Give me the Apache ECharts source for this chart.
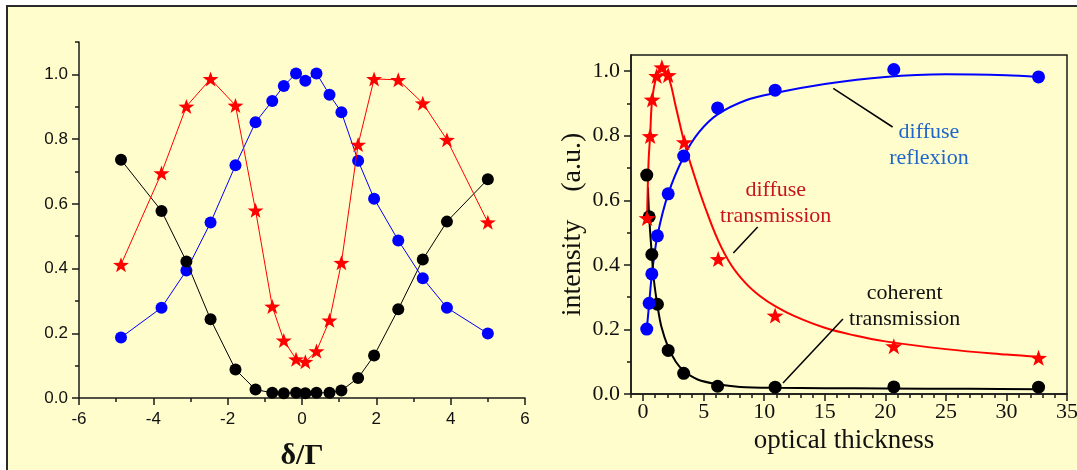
<!DOCTYPE html>
<html>
<head>
<meta charset="utf-8">
<script src="https://cdn.jsdelivr.net/npm/echarts@6/dist/echarts.min.js"></script>
<style>
html, body { margin: 0; padding: 0; background: #ffffff; }
#chart { width: 1077px; height: 470px; }
</style>
</head>
<body>
<div id="chart"></div>
<script>
// ---- Left panel: intensities versus detuning δ/Γ ----
const detuning = [-4.87, -3.78, -3.11, -2.46, -1.79, -1.25, -0.80, -0.49, -0.16, 0.09, 0.39, 0.74, 1.06, 1.51, 1.94, 2.59, 3.25, 3.90, 5.00];
const coherentVsDetuning = [0.736, 0.578, 0.422, 0.243, 0.088, 0.026, 0.016, 0.015, 0.016, 0.015, 0.016, 0.016, 0.023, 0.062, 0.131, 0.274, 0.428, 0.545, 0.676];
const reflexionVsDetuning = [0.187, 0.279, 0.394, 0.542, 0.719, 0.852, 0.918, 0.964, 1.003, 0.980, 1.003, 0.937, 0.883, 0.733, 0.616, 0.487, 0.370, 0.279, 0.199];
const diffuseVsDetuning = [0.412, 0.695, 0.901, 0.986, 0.904, 0.580, 0.283, 0.178, 0.120, 0.112, 0.145, 0.240, 0.418, 0.783, 0.986, 0.983, 0.911, 0.798, 0.543];

// ---- Right panel: intensities versus optical thickness ----
const thickness = [0.30, 0.50, 0.72, 1.18, 2.07, 3.35, 6.15, 10.9, 20.7, 32.65];
const coherentVsThickness = [0.678, 0.549, 0.432, 0.278, 0.135, 0.064, 0.024, 0.021, 0.022, 0.021];
const reflexionVsThickness = [0.201, 0.281, 0.372, 0.490, 0.620, 0.737, 0.886, 0.941, 1.005, 0.982];
const diffuseThickness = [0.33, 0.58, 0.75, 1.12, 1.55, 2.07, 3.40, 6.20, 10.9, 20.7, 32.65];
const diffuseVsThickness = [0.545, 0.799, 0.912, 0.985, 1.012, 0.988, 0.780, 0.418, 0.243, 0.148, 0.112];

// fitted curves through the thickness data, [thickness, intensity]
const coherentFit = [[0.40, 0.64], [0.50, 0.55], [0.72, 0.43], [0.90, 0.35], [1.18, 0.275], [1.5, 0.21], [2.07, 0.145], [2.7, 0.10], [3.35, 0.072], [4.5, 0.045], [6.15, 0.030], [8.0, 0.022], [10.9, 0.019], [15, 0.018], [20, 0.017], [27, 0.016], [32.65, 0.015]];
const reflexionFit = [[0.30, 0.20], [0.50, 0.28], [0.72, 0.37], [1.18, 0.49], [2.07, 0.62], [3.35, 0.735], [4.6, 0.81], [6.15, 0.866], [8.5, 0.91], [10.9, 0.932], [15, 0.96], [20, 0.982], [25, 0.99], [30, 0.987], [32.65, 0.982]];
const diffuseFit = [[0.33, 0.545], [0.45, 0.72], [0.58, 0.80], [0.75, 0.912], [1.12, 0.985], [1.55, 1.01], [2.07, 0.985], [2.7, 0.89], [3.4, 0.78], [4.2, 0.68], [5.1, 0.58], [6.2, 0.475], [7.3, 0.398], [8.5, 0.342], [9.7, 0.302], [10.9, 0.272], [12.5, 0.241], [15, 0.205], [17.5, 0.181], [20, 0.163], [25, 0.139], [30, 0.122], [32.65, 0.115]];

// tick positions
const leftYTicks = [0, 0.2, 0.4, 0.6, 0.8, 1.0];
const rightYTicks = [0, 0.2, 0.4, 0.6, 0.8, 1.0];
const rightYMinorTicks = [0, 0.1, 0.2, 0.3, 0.4, 0.5, 0.6, 0.7, 0.8, 0.9, 1.0];
const rightXTicks = [0, 5, 10, 15, 20, 25, 30, 35];

// curve annotations, placed in thickness/intensity units
const notes = [
  { text: 'diffuse\nreflexion', color: '#1f66cc', at: [23.6, 0.772], from: [15.7, 0.947], to: [20.6, 0.827] },
  { text: 'diffuse\ntransmission', color: '#c8141e', at: [10.95, 0.59], from: [9.46, 0.517], to: [7.45, 0.437] },
  { text: 'coherent\ntransmission', color: '#111111', at: [21.6, 0.272], from: [16.5, 0.232], to: [11.55, 0.034] }
];

const BLUE = '#0000ff', RED = '#ff0000', BLACK = '#000000';
const AXIS = '#1a1a1a';
const STAR = 'path://M0,-50L11.76,-16.18L47.55,-15.45L19.02,6.18L29.39,40.45L0,20L-29.39,40.45L-19.02,6.18L-47.55,-15.45L-11.76,-16.18Z';
const SANS = '"Liberation Sans", Arial, sans-serif';
const SERIF = '"Liberation Serif", "Times New Roman", serif';

const pairs = (xs, ys) => xs.map((x, i) => [x, ys[i]]);

const axisLine = { show: true, onZero: false, lineStyle: { color: AXIS, width: 1.5 } };
const hiddenLine = { show: false, onZero: false };
const tickStyle = { color: AXIS, width: 1.5 };

const chart = echarts.init(document.getElementById('chart'), null, { renderer: 'canvas' });

const option = {
  animation: false,
  backgroundColor: '#ffffff',
  grid: [
    { left: 79, top: 42, width: 446, height: 356, containLabel: false, outerBoundsMode: 'none' },
    { left: 631, top: 55, width: 436, height: 339, containLabel: false, outerBoundsMode: 'none',
      show: true, borderColor: AXIS, borderWidth: 1.5, backgroundColor: 'transparent' }
  ],
  xAxis: [
    // left panel: minor ticks
    { gridIndex: 0, type: 'value', position: 'bottom', min: -6, max: 6, interval: 1,
      axisLine: axisLine, axisTick: { length: 4, lineStyle: tickStyle },
      axisLabel: { show: false }, splitLine: { show: false } },
    // left panel: major ticks, labels, title
    { gridIndex: 0, type: 'value', position: 'bottom', min: -6, max: 6, interval: 2,
      axisLine: hiddenLine, axisTick: { length: 7, lineStyle: tickStyle },
      axisLabel: { fontFamily: SANS, fontSize: 17, color: '#111', margin: 13 },
      splitLine: { show: false },
      name: 'δ/Γ', nameLocation: 'middle', nameGap: 43,
      nameTextStyle: { fontFamily: SERIF, fontSize: 30, fontWeight: 'bold', color: '#111' } },
    // right panel: minor ticks
    { gridIndex: 1, type: 'value', position: 'bottom', min: -1, max: 35, interval: 1,
      axisLine: axisLine, axisTick: { length: 4, lineStyle: tickStyle },
      axisLabel: { show: false }, splitLine: { show: false } },
    // right panel: major ticks, labels, title
    { gridIndex: 1, type: 'value', position: 'bottom', min: -1, max: 35,
      axisLine: hiddenLine,
      axisTick: { length: 7, lineStyle: tickStyle, customValues: rightXTicks },
      axisLabel: { fontFamily: SERIF, fontSize: 22, color: '#111', margin: 7, customValues: rightXTicks },
      splitLine: { show: false },
      name: 'optical thickness', nameLocation: 'middle', nameGap: 27,
      nameTextStyle: { fontFamily: SERIF, fontSize: 27, color: '#111', padding: [0, 10, 0, 0] } }
  ],
  yAxis: [
    { gridIndex: 0, type: 'value', position: 'left', min: 0, max: 1.1, interval: 0.1,
      axisLine: axisLine, axisTick: { length: 4, lineStyle: tickStyle },
      axisLabel: { show: false }, splitLine: { show: false } },
    { gridIndex: 0, type: 'value', position: 'left', min: 0, max: 1.1,
      axisLine: hiddenLine,
      axisTick: { length: 7, lineStyle: tickStyle, customValues: leftYTicks },
      axisLabel: { fontFamily: SANS, fontSize: 17, color: '#111', margin: 11,
        customValues: leftYTicks, formatter: v => v.toFixed(1) },
      splitLine: { show: false } },
    { gridIndex: 1, type: 'value', position: 'left', min: 0, max: 1.05,
      axisLine: axisLine,
      axisTick: { length: 4, lineStyle: tickStyle, customValues: rightYMinorTicks },
      axisLabel: { show: false }, splitLine: { show: false } },
    { gridIndex: 1, type: 'value', position: 'left', min: 0, max: 1.05,
      axisLine: hiddenLine,
      axisTick: { length: 7, lineStyle: tickStyle, customValues: rightYTicks },
      axisLabel: { fontFamily: SERIF, fontSize: 22, color: '#111', margin: 11,
        customValues: rightYTicks, formatter: v => v.toFixed(1) },
      splitLine: { show: false },
      name: 'intensity    (a.u.)', nameLocation: 'middle', nameRotate: 90, nameGap: 44,
      nameTextStyle: { fontFamily: SERIF, fontSize: 28, color: '#111' } }
  ],
  series: [
    // left panel
    { type: 'line', xAxisIndex: 0, yAxisIndex: 0, data: pairs(detuning, reflexionVsDetuning),
      symbol: 'circle', symbolSize: 12, showAllSymbol: true,
      itemStyle: { color: BLUE }, lineStyle: { color: BLUE, width: 1 }, z: 2 },
    { type: 'line', xAxisIndex: 0, yAxisIndex: 0, data: pairs(detuning, coherentVsDetuning),
      symbol: 'circle', symbolSize: 12, showAllSymbol: true,
      itemStyle: { color: BLACK }, lineStyle: { color: BLACK, width: 1 }, z: 3 },
    { type: 'line', xAxisIndex: 0, yAxisIndex: 0, data: pairs(detuning, diffuseVsDetuning),
      symbol: STAR, symbolSize: [16, 15], showAllSymbol: true,
      itemStyle: { color: RED }, lineStyle: { color: RED, width: 1 }, z: 4 },

    // right panel: fitted curves
    { type: 'line', xAxisIndex: 2, yAxisIndex: 2, data: reflexionFit, showSymbol: false,
      smooth: 0.3, lineStyle: { color: BLUE, width: 2 }, z: 2 },
    { type: 'line', xAxisIndex: 2, yAxisIndex: 2, data: coherentFit, showSymbol: false,
      smooth: 0.3, lineStyle: { color: BLACK, width: 2 }, z: 2 },
    { type: 'line', xAxisIndex: 2, yAxisIndex: 2, data: diffuseFit, showSymbol: false,
      smooth: 0.4, lineStyle: { color: RED, width: 2 }, z: 2 },
    // right panel: measured points
    { type: 'scatter', xAxisIndex: 2, yAxisIndex: 2, data: pairs(thickness, coherentVsThickness),
      symbol: 'circle', symbolSize: 13, itemStyle: { color: BLACK, opacity: 1 }, z: 3 },
    { type: 'scatter', xAxisIndex: 2, yAxisIndex: 2, data: pairs(thickness, reflexionVsThickness),
      symbol: 'circle', symbolSize: 13, itemStyle: { color: BLUE, opacity: 1 }, z: 4 },
    { type: 'scatter', xAxisIndex: 2, yAxisIndex: 2, data: pairs(diffuseThickness, diffuseVsThickness),
      symbol: STAR, symbolSize: [17, 16], itemStyle: { color: RED, opacity: 1 }, z: 5 }
  ]
};

chart.setOption(option);

// panel background and frame, plus annotations anchored to the right panel
const toPx = p => chart.convertToPixel({ gridIndex: 1 }, p);
const graphics = [
  { type: 'rect', z: -100, silent: true,
    shape: { x: 7, y: 6, width: 1090, height: 490 },
    style: { fill: '#fffdcb', stroke: '#2a2a2a', lineWidth: 2 } }
];
notes.forEach(n => {
  const c = toPx(n.at), a = toPx(n.from), b = toPx(n.to);
  graphics.push({ type: 'line', z: 10, silent: true,
    shape: { x1: a[0], y1: a[1], x2: b[0], y2: b[1] },
    style: { stroke: '#000', lineWidth: 1.5 } });
  graphics.push({ type: 'text', z: 10, silent: true, x: c[0], y: c[1],
    style: { text: n.text, fill: n.color, fontFamily: SERIF, fontSize: 22,
      lineHeight: 26, align: 'center', verticalAlign: 'middle' } });
});
chart.setOption({ graphic: graphics });
</script>
</body>
</html>
